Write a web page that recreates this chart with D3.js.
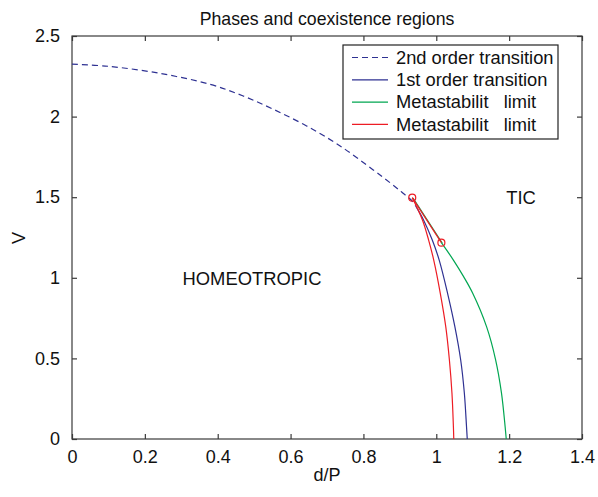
<!DOCTYPE html>
<html><head><meta charset="utf-8">
<script src="https://cdn.jsdelivr.net/npm/d3@7"></script>
<style>
body{margin:0;background:#fff;}
text{font-family:"Liberation Sans",Arial,Helvetica,sans-serif;fill:#111;}
</style></head>
<body><svg id="c" width="598" height="497"></svg>
<script>
// ---- data ----
const xTicks = [0, 0.2, 0.4, 0.6, 0.8, 1, 1.2, 1.4];
const yTicks = [0, 0.5, 1, 1.5, 2, 2.5];
const secondOrderX = [0, 0.10, 0.242, 0.379, 0.470, 0.553, 0.644, 0.736, 0.827, 0.873, 0.905, 0.934, 0.945];
const secondOrderV = [2.325, 2.312, 2.268, 2.200, 2.128, 2.045, 1.942, 1.818, 1.669, 1.590, 1.532, 1.475, 1.440];
const firstOrderX = [0.945, 0.965, 0.989, 1.008, 1.031, 1.051, 1.067, 1.077, 1.083, 1.085];
const firstOrderV = [1.440, 1.359, 1.234, 1.110, 0.904, 0.697, 0.490, 0.285, 0.076, 0];
const greenX = [1.014, 1.047, 1.075, 1.100, 1.138, 1.163, 1.179, 1.189, 1.192];
const greenV = [1.218, 1.110, 1.007, 0.904, 0.697, 0.490, 0.285, 0.076, 0];
const redX = [0.934, 0.962, 0.979, 0.993, 1.011, 1.026, 1.036, 1.043, 1.047, 1.048];
const redV = [1.497, 1.359, 1.234, 1.110, 0.904, 0.697, 0.490, 0.285, 0.076, 0];
const tieX = [0.934, 1.014];
const tieV = [1.497, 1.218];
const legendLabels = ["2nd order transition", "1st order transition", "Metastabilit   limit", "Metastabilit   limit"];

const svg = d3.select("#c");
const L = 72, R = 582, T = 36, B = 439;
const x = d3.scaleLinear().domain([0, 1.4]).range([L, R]);
const y = d3.scaleLinear().domain([0, 2.5]).range([B, T]);
const axisCol = "#3a3a3a";
const cBlue = "#2e3192", cGreen = "#00a651", cRed = "#ed1c24";

// frame
svg.append("rect").attr("x", L).attr("y", T).attr("width", R - L).attr("height", B - T)
  .attr("fill", "none").attr("stroke", axisCol).attr("stroke-width", 1.2);

// axes (ticks inward)
const gx = svg.append("g").attr("transform", `translate(0,${B})`)
  .call(d3.axisBottom(x).tickValues(xTicks).tickSize(-5).tickPadding(11).tickFormat(d3.format("")));
const gxt = svg.append("g").attr("transform", `translate(0,${T})`)
  .call(d3.axisTop(x).tickValues(xTicks).tickSize(-5).tickFormat(""));
const gy = svg.append("g").attr("transform", `translate(${L},0)`)
  .call(d3.axisLeft(y).tickValues(yTicks).tickSize(-5).tickPadding(12).tickFormat(d3.format("")));
const gyr = svg.append("g").attr("transform", `translate(${R},0)`)
  .call(d3.axisRight(y).tickValues(yTicks).tickSize(-5).tickFormat(""));
[gx, gxt, gy, gyr].forEach(g => {
  g.select(".domain").remove();
  g.selectAll(".tick line").attr("stroke", axisCol).attr("stroke-width", 1.2);
  g.selectAll("text").attr("font-size", 18).attr("fill", "#111")
    .style("font-family", '"Liberation Sans",Arial,sans-serif');
});

const line = d3.line().x(d => x(d[0])).y(d => y(d[1])).curve(d3.curveCatmullRom.alpha(0.5));
const lineStraight = d3.line().x(d => x(d[0])).y(d => y(d[1]));
const zip = (a, b) => a.map((v, i) => [v, b[i]]);

svg.append("path").attr("d", line(zip(secondOrderX, secondOrderV)))
  .attr("fill", "none").attr("stroke", cBlue).attr("stroke-width", 1.2).attr("stroke-dasharray", "6,4");
svg.append("path").attr("d", line(zip(firstOrderX, firstOrderV)))
  .attr("fill", "none").attr("stroke", cBlue).attr("stroke-width", 1.2);
svg.append("path").attr("d", lineStraight(zip(tieX, tieV)))
  .attr("fill", "none").attr("stroke", cGreen).attr("stroke-width", 1.2).attr("transform", "translate(0.8,0.4)");
svg.append("path").attr("d", line(zip(greenX, greenV)))
  .attr("fill", "none").attr("stroke", cGreen).attr("stroke-width", 1.2);
svg.append("path").attr("d", lineStraight(zip(tieX, tieV)))
  .attr("fill", "none").attr("stroke", cRed).attr("stroke-width", 1.2);
svg.append("path").attr("d", line(zip(redX, redV)))
  .attr("fill", "none").attr("stroke", cRed).attr("stroke-width", 1.2);
svg.selectAll("circle.pt").data(zip(tieX, tieV)).enter().append("circle")
  .attr("cx", d => x(d[0])).attr("cy", d => y(d[1])).attr("r", 3.5)
  .attr("fill", "none").attr("stroke", cRed).attr("stroke-width", 1.2);

// texts
svg.append("text").attr("x", 327).attr("y", 25).attr("text-anchor", "middle").attr("font-size", 17.7)
  .text("Phases and coexistence regions");
svg.append("text").attr("x", 327).attr("y", 481).attr("text-anchor", "middle").attr("font-size", 18).text("d/P");
svg.append("text").attr("transform", "translate(25,238) rotate(-90)").attr("text-anchor", "middle")
  .attr("font-size", 18).text("V");
svg.append("text").attr("x", 252).attr("y", 285).attr("text-anchor", "middle").attr("font-size", 18.4).text("HOMEOTROPIC");
svg.append("text").attr("x", 521).attr("y", 204).attr("text-anchor", "middle").attr("font-size", 18.4).text("TIC");

// legend
const lg = svg.append("g");
lg.append("rect").attr("x", 343).attr("y", 45).attr("width", 215).attr("height", 94)
  .attr("fill", "#fff").attr("stroke", "#222").attr("stroke-width", 1.2);
const legCols = [cBlue, cBlue, cGreen, cRed];
const legDash = ["6,4", null, null, null];
legendLabels.forEach((t, i) => {
  const yy = 57.5 + i * 22.3;
  lg.append("line").attr("x1", 352).attr("x2", 388).attr("y1", yy).attr("y2", yy)
    .attr("stroke", legCols[i]).attr("stroke-width", 1.2).attr("stroke-dasharray", legDash[i]);
  lg.append("text").attr("x", 396).attr("y", yy + 6.3).attr("font-size", 18.3)
    .style("white-space", "pre").text(t);
});
</script></body></html>
